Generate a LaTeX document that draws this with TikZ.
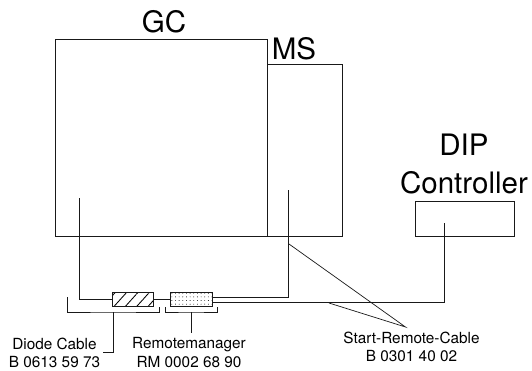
\documentclass[tikz,border=0pt]{standalone}
\usepackage{fontspec}
\setmainfont{TeX Gyre Heros}
\usetikzlibrary{patterns.meta}

\begin{document}
\begin{tikzpicture}[x=0.025cm, y=-0.025cm, line width=0.68pt, black!90,
    unitbox/.style={draw, minimum height=#1, inner sep=0pt, outer sep=0pt},
    cablebox/.style={draw, minimum width=41.5*0.7113pt, minimum height=14.5*0.7113pt,
                     inner sep=0pt, outer sep=0pt},
    bigtxt/.style={font=\fontsize{21}{27.7}\selectfont, text=black, inner sep=0pt, align=center},
    smalltxt/.style={font=\fontsize{10.9}{12.9}\selectfont, text=black, inner sep=0pt, align=center},
    bracket/.style={draw, line width=0.65pt},
    leader/.style={draw, line width=0.5pt}]

  \useasboundingbox (0,0) rectangle (532,370);

  \node[unitbox=197*0.7113pt, minimum width=211*0.7113pt] (gc)  at (161.5,137.5) {};
  \node[unitbox=172*0.7113pt, minimum width=75*0.7113pt]  (ms)  at (304.5,150)   {};
  \node[unitbox=35*0.7113pt,  minimum width=99*0.7113pt]  (dip) at (464.5,218.5) {};

  \node[bigtxt] (gclbl)  at (164,22)  {GC};
  \node[bigtxt] (mslbl)  at (294,49)  {MS};
  \node[bigtxt] (diplbl) at (464,164) {DIP\\Controller};

  \node[cablebox, pattern={Lines[angle=48,distance=6pt,line width=0.6pt]}] (diode) at (133,299.5) {};
  \node[cablebox, pattern={Dots[radius=0.32pt,distance=2.6pt]}] (remote) at (191.5,299.5) {};

  % cable ends inside the units
  \coordinate (gcend)  at (79,198);
  \coordinate (msend)  at (288.7,190);
  \coordinate (dipend) at (444,223);

  \draw (gcend) |- (diode.west);
  \draw (diode.east) -- (remote.west);
  \draw (msend) |- (remote.east |- 0,297);
  \draw (dipend) |- (remote.east |- 0,302.5);

  % brackets under the cables
  \coordinate (dbl) at (67,297);
  \coordinate (dbr) at (159,307);
  \coordinate (rbl) at (165,307);
  \coordinate (rbr) at (217,307);
  \coordinate (dstem) at (113,312);
  \coordinate (rstem) at (191,312);
  \coordinate (dfoot) at (103,352);
  \coordinate (rfoot) at (191,333);
  \draw[bracket] (dbl) |- (dstem) -| (dbr);
  \draw[bracket] (rbl) |- (rstem) -| (rbr);
  \draw[bracket] (dstem) |- (dfoot);
  \draw[bracket] (rstem) -- (rfoot);

  \node[smalltxt] (dlbl) at (54.5,353)  {Diode Cable\\B 0613 59 73};
  \node[smalltxt] (rlbl) at (189,352.5) {Remotemanager\\RM 0002 68 90};
  \node[smalltxt] (slbl) at (411.5,347) {Start-Remote-Cable\\B 0301 40 02};

  % leaders to the start cable
  \coordinate (tip)  at (405.5,327);
  \coordinate (lead1) at (289,244);
  \coordinate (lead2) at (329,303);
  \draw[leader] (lead1) -- (tip) -- (lead2);

\end{tikzpicture}
\end{document}
